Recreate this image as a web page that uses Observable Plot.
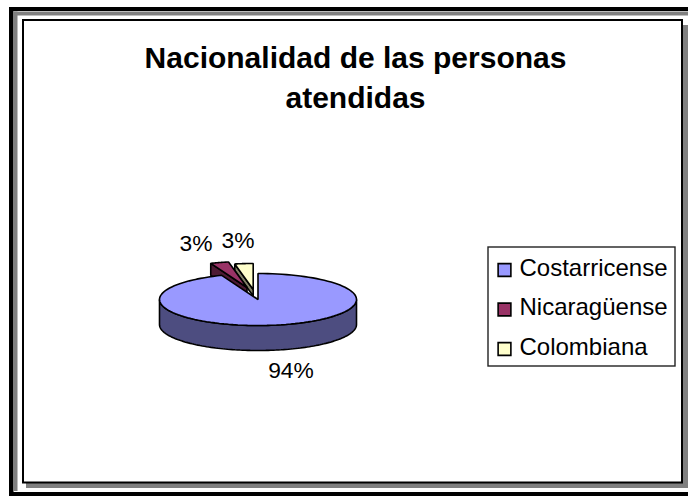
<!DOCTYPE html>
<html lang="es">
<head>
<meta charset="utf-8">
<script src="https://cdn.jsdelivr.net/npm/d3@7"></script>
<script src="https://cdn.jsdelivr.net/npm/@observablehq/plot@0.6"></script>
<style>html,body{margin:0;padding:0;background:#fff;overflow:hidden}svg{display:block}</style>
</head>
<body>
<div id="chart"></div>
<script>
const titleLines = ["Nacionalidad de las personas", "atendidas"];
const categories = ["Costarricense", "Nicaragüense", "Colombiana"];
const shares = [94, 3, 3];
const topColors = ["#9999FF", "#993366", "#FFFFCC"];
const sideColors = ["#4D4D80", "#4D1A33", "#808066"];

const W = 688, H = 497;
const font = "'Liberation Sans', Arial, sans-serif";
const rx = 98.5, ry = 26;
const pieCenter = [257.5, 299];
// per-slice explosion offset and visible height of the side wall
const explode = [[0, 0], [-11, -12], [-4.8, -10]];
const wall = [25, 12, 6.5];
const labelPos = [[290.5, 377], [195.5, 250], [237.5, 247]];

const total = d3.sum(shares);
let acc = 0;
const slices = shares.map((v, i) => {
  const a0 = acc / total * 2 * Math.PI;
  acc += v;
  const a1 = acc / total * 2 * Math.PI;
  return {i, v, name: categories[i], a0, a1,
    cx: pieCenter[0] + explode[i][0], cy: pieCenter[1] + explode[i][1]};
});
const rimPoint = (s, a, dy = 0) => ({x: s.cx + rx * Math.sin(a), y: s.cy - ry * Math.cos(a) + dy});
const arc = (s, a0, a1, dy = 0) => d3.range(0, 121).map(k => rimPoint(s, a0 + (a1 - a0) * k / 120, dy));
const topFace = s => [{x: s.cx, y: s.cy}, ...arc(s, s.a0, s.a1)];

const [main, nica, colo] = slices;
// main body: visible wall is the front half of the rim, extruded
const mainSide = [...arc(main, Math.PI / 2, 3 * Math.PI / 2), ...arc(main, Math.PI / 2, 3 * Math.PI / 2, wall[0]).reverse()];
// exploded slices: the wall along their first cut edge, extruded
const cutWall = s => {
  const p = rimPoint(s, s.a0), q = {x: s.cx, y: s.cy}, h = wall[s.i];
  return [p, q, {x: q.x, y: q.y + h}, {x: p.x, y: p.y + h}];
};

const face = (pts, fill) => Plot.line(pts, {x: "x", y: "y", curve: "linear-closed", fill, stroke: "#000", strokeWidth: 1.6, strokeLinejoin: "miter"});
const band = (x1, x2, y1, y2, fill) => Plot.rectY([0], {x1: () => x1, x2: () => x2, y1: () => y1, y2: () => y2, fill});

const legendBox = {x1: 488, x2: 675, y1: 247, y2: 366};
const legendRows = categories.map((name, i) => ({name, i, x: 504, tx: 519, y: [269.5, 309, 348.5][i], by: [275, 314, 354][i]}));

const plot = Plot.plot({
  width: W, height: H, margin: 0,
  x: {domain: [0, W], range: [0, W], axis: null},
  y: {domain: [0, H], range: [0, H], axis: null},
  color: {domain: categories, range: topColors},
  style: {background: "#fff"},
  marks: [
    // chart frame
    band(9, W, 7, 11, "#000"),
    band(9, 13.5, 7, 496, "#000"),
    band(9, W, 492, 496, "#000"),
    band(14, W, 11.5, 15.5, "#808080"),
    band(14, 17.5, 11.5, 491, "#808080"),
    band(683, W, 25, 488, "#808080"),
    band(26, W, 483, 488, "#808080"),
    Plot.rectY([0], {x1: () => 23, x2: () => 682, y1: () => 20, y2: () => 482.5, fill: "#fff", stroke: "#000", strokeWidth: 2}),

    // title
    Plot.text(titleLines, {x: () => 355, y: (d, i) => [67.5, 107.5][i], text: d => d, textAnchor: "middle", lineAnchor: "bottom", fontFamily: font, fontWeight: "bold", fontSize: 30, fill: "#000"}),

    // pie, back to front
    face(cutWall(colo), sideColors[2]),
    face(topFace(colo), topColors[2]),
    face(cutWall(nica), sideColors[1]),
    face(topFace(nica), topColors[1]),
    face(mainSide, sideColors[0]),
    face(topFace(main), topColors[0]),

    // percentage labels
    Plot.text(slices, {x: (d, i) => labelPos[i][0], y: (d, i) => labelPos[i][1], text: d => d3.format(".0%")(d.v / total), textAnchor: "middle", lineAnchor: "bottom", fontFamily: font, fontSize: 22.8, fill: "#000"}),

    // legend
    Plot.rect([legendBox], {x1: "x1", x2: "x2", y1: "y1", y2: "y2", fill: "#fff", stroke: "#222", strokeWidth: 1.4}),
    Plot.dot(legendRows, {x: "x", y: "y", symbol: "square", r: 7.2, fill: "name", stroke: "#000", strokeWidth: 1.6}),
    Plot.text(legendRows, {x: "tx", y: "by", text: "name", textAnchor: "start", lineAnchor: "bottom", fontFamily: font, fontSize: 24, fill: "#000"})
  ]
});
document.getElementById("chart").appendChild(plot);
</script>
</body>
</html>
